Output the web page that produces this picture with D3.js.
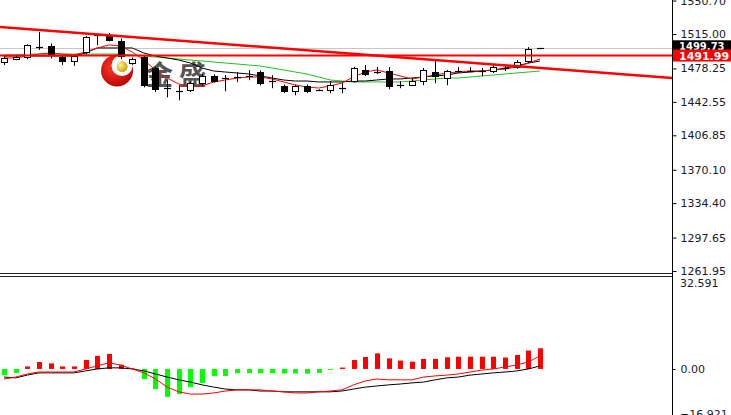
<!DOCTYPE html>
<html><head><meta charset="utf-8">
<script src="https://cdn.jsdelivr.net/npm/d3@7"></script>
<style>body{margin:0;background:#fff;overflow:hidden}svg{display:block}</style>
</head><body>
<svg id="c" width="731" height="415"></svg>
<script>
// ---- data ----
const bars = d3.range(47);
const open  = [1485.2,1488.4,1490.5,1502,1502.4,1490.5,1486.2,1495.9,1513,1514.2,1507.7,1484,1490.5,1478.7,1457.5,1454,1455,1462.5,1470,1467.8,1469,1470,1474.3,1464.5,1459.3,1453.9,1459.3,1455,1455,1457,1464.7,1476.5,1474.4,1475.4,1460.3,1460.3,1464.6,1474.4,1468,1475.4,1475.4,1475.4,1475.4,1478.7,1479.7,1486.2,1499.6];
const high  = [1491.6,1493,1504,1517,1505,1492,1493,1513,1515.3,1516,1510,1490,1492,1480,1465.7,1460.3,1464,1472,1472,1471.1,1474.3,1476.5,1476,1471.1,1461,1461,1461,1456,1464.6,1462.5,1480,1481.9,1479.7,1479.7,1464.6,1467.9,1478.7,1487.3,1476.5,1479.7,1479.7,1478.7,1481.9,1481.9,1487,1501,1500];
const low   = [1481.9,1487,1488,1498,1489,1482,1481,1493,1503,1507,1488,1482,1458,1453,1447.4,1444.2,1453,1460,1463,1453.9,1463.6,1465.7,1460,1457.1,1452,1449.6,1452,1454,1451.7,1451.7,1463,1470,1472.2,1456,1457.1,1459.3,1460.3,1462.5,1460.3,1473.3,1474.3,1470,1473.3,1475.4,1478,1484,1499.4];
const close = [1489.5,1490.6,1503.4,1501,1493.8,1486.2,1491.6,1512.1,1513.5,1508.8,1491.6,1488.4,1460.3,1456,1457,1453.8,1462.5,1470,1464.7,1468,1469,1470.2,1462.5,1464.7,1453.9,1459.3,1453.9,1455.2,1460.3,1457.3,1478.7,1472.2,1474.3,1459.3,1460.4,1464.6,1476.5,1470,1475.4,1475.5,1475.5,1475.6,1479.7,1478.8,1485.1,1499.2,1499.7];
const maFast = [1489.4,1489.4,1491.5,1493.6,1494.7,1493.6,1492.6,1495.8,1500.1,1503.3,1502.2,1495.8,1487.2,1476.6,1468.0,1461.6,1458.4,1459.5,1463.8,1465.9,1468.0,1469.1,1469.1,1467.0,1463.8,1460.5,1458.4,1457.3,1459.5,1462.7,1469.1,1474.4,1476.6,1473.4,1470.2,1467.0,1469.1,1471.2,1473.4,1474.4,1475.5,1475.5,1476.6,1477.6,1479.8,1484.0,1488.3];
const maMid = [1491.5,1491.5,1491.5,1491.5,1491.5,1491.5,1491.5,1494.7,1500.1,1500.1,1500.1,1500.1,1494.7,1491.5,1489.4,1487.2,1484.0,1478.7,1475.5,1474.4,1473.4,1472.3,1470.2,1468.0,1465.9,1464.8,1464.8,1463.8,1463.8,1463.8,1464.8,1464.8,1465.9,1467.0,1467.0,1468.0,1469.1,1470.2,1471.2,1473.4,1474.4,1475.5,1476.6,1478.7,1480.8,1484.0,1486.2];
const maSlow = [1492.6,1492.6,1493.6,1493.6,1493.6,1493.6,1493.6,1493.6,1493.6,1493.6,1493.6,1492.6,1491.5,1490.4,1489.4,1488.3,1487.2,1486.2,1485.1,1484.0,1483.0,1481.9,1480.8,1478.7,1476.6,1474.4,1472.3,1469.1,1465.9,1464.8,1463.8,1463.8,1463.8,1463.8,1463.8,1464.8,1465.9,1467.0,1468.0,1468.0,1469.1,1470.2,1471.2,1472.3,1473.4,1474.4,1475.5];
const trendIdx = [0, 46];
const trendPrice = [1522.1, 1478.7];
const hLinePrice = 1491.99;
const bidPrice = 1499.73;
const macdHist = [-2.3,-1.4,0.9,2.5,2,0.9,0.9,3.2,4.7,5.4,1.5,0.2,-3.6,-7.2,-10,-9,-6.5,-5,-2.5,-2.5,-1.5,-1.5,-1.5,-1.5,-1.6,-1.6,-1.7,-1.4,-0.3,0.5,3.2,4.3,5.6,3.8,3,2.6,3.6,3.6,4.2,4.4,4.4,4.4,4.4,4.1,5,6.6,7.4];
const macdBlack = [-2.9,-3.2,-2.2,-1.4,-1.4,-1.4,-1.4,-0.7,0,0.4,0.4,0,-0.7,-1.8,-2.9,-3.9,-4.7,-5.7,-6.5,-7.2,-7.5,-7.5,-7.9,-7.9,-8.2,-8.2,-8.2,-8.2,-8.2,-7.9,-7.2,-6.5,-6.1,-5.7,-5.4,-5.0,-4.7,-3.9,-3.2,-2.9,-2.2,-1.8,-1.4,-1.1,-0.7,0,1.1];
const macdRed = [-3.6,-2.9,-1.8,-1.1,-1.1,-1.1,-1.1,0,1.1,2.2,1.4,0,-1.4,-3.6,-6.5,-8.2,-9,-9,-8.6,-7.9,-7.5,-7.5,-7.5,-7.9,-8.2,-8.6,-8.6,-8.2,-7.9,-7.5,-5.7,-4.3,-3.6,-3.9,-3.9,-3.9,-2.9,-2.5,-2.2,-1.8,-1.1,-0.4,0,0.7,1.4,2.5,4.7];
const priceTicks = [1550.70,1515.00,1478.25,1442.55,1406.85,1370.10,1334.40,1297.65,1261.95];
const macdTop = 32.591, macdBottom = -16.921;
const logoText = ["金","盛"];

// ---- layout ----
const W = 731, H = 415, axisX = 672;
const svg = d3.select("#c");
const x = d3.scaleLinear().domain([0,46]).range([4,540]);
const y = d3.scaleLinear().domain([1260.9,1551.3]).range([272,0]);
const ym = d3.scaleLinear().domain([-16.5,32.6]).range([415,278]);
const font = "'DejaVu Sans', Verdana, sans-serif";

const defs = svg.append("defs");
defs.append("clipPath").attr("id","cm").append("rect").attr("x",0).attr("y",0).attr("width",axisX).attr("height",272);
defs.append("clipPath").attr("id","cd").append("rect").attr("x",0).attr("y",278).attr("width",axisX).attr("height",137);
const rg = defs.append("radialGradient").attr("id","rg").attr("cx","40%").attr("cy","40%").attr("r","70%");
rg.append("stop").attr("offset","0%").attr("stop-color","#ff3a2a");
rg.append("stop").attr("offset","100%").attr("stop-color","#b00000");
const gg = defs.append("radialGradient").attr("id","gg").attr("cx","35%").attr("cy","35%").attr("r","70%");
gg.append("stop").attr("offset","0%").attr("stop-color","#fff2a0");
gg.append("stop").attr("offset","100%").attr("stop-color","#c8a000");

const main = svg.append("g").attr("clip-path","url(#cm)");

// logo watermark
const lg = main.append("g");
const lcx = x(9.7), lcy = y(1476);
lg.append("circle").attr("cx",lcx).attr("cy",lcy).attr("r",16).attr("fill","url(#rg)");
lg.append("circle").attr("cx",lcx+5).attr("cy",lcy-5).attr("r",10.5).attr("fill","#fff");
lg.append("circle").attr("cx",lcx+5).attr("cy",lcy-4).attr("r",5.5).attr("fill","url(#gg)");
lg.selectAll("text.lt").data(logoText).enter().append("text")
  .attr("x",(d,i)=>lcx+29+i*33).attr("y",lcy+14)
  .attr("font-family","'Noto Sans CJK SC', sans-serif").attr("font-size",27).attr("font-weight","bold")
  .attr("fill","#2a2a2a").attr("opacity",0.8).text(d=>d);

// bid line
main.append("line").attr("x1",0).attr("x2",axisX).attr("y1",Math.round(y(bidPrice))+0.5).attr("y2",Math.round(y(bidPrice))+0.5)
  .attr("stroke","#c8c8c8").attr("stroke-width",1);

// moving averages
const ln = arr => d3.line().x((d,i)=>x(i)).y(d=>y(d))(arr);
main.append("path").attr("d",ln(maSlow)).attr("fill","none").attr("stroke","#22c022").attr("stroke-width",1);
main.append("path").attr("d",ln(maMid)).attr("fill","none").attr("stroke","#000").attr("stroke-width",1);
main.append("path").attr("d",ln(maFast)).attr("fill","none").attr("stroke","#ff0000").attr("stroke-width",1);

// candles
const cg = main.append("g");
bars.forEach(i=>{
  const cx = Math.round(x(i))+0.5;
  cg.append("line").attr("x1",cx).attr("x2",cx).attr("y1",y(high[i])).attr("y2",y(low[i])).attr("stroke","#000").attr("stroke-width",1);
  const top = y(Math.max(open[i],close[i])), bot = y(Math.min(open[i],close[i]));
  const hgt = bot-top;
  if (hgt < 2) {
    cg.append("line").attr("x1",cx-3.5).attr("x2",cx+3.5).attr("y1",Math.round(y(close[i]))+0.5).attr("y2",Math.round(y(close[i]))+0.5).attr("stroke","#000").attr("stroke-width",1.2);
  } else {
    cg.append("rect").attr("x",cx-3).attr("width",6).attr("y",Math.round(top)+0.5).attr("height",Math.round(hgt))
      .attr("fill", close[i]>=open[i] ? "#fff" : "#000").attr("stroke","#000").attr("stroke-width",1);
  }
});

// horizontal and trend lines
main.append("line").attr("x1",0).attr("x2",axisX).attr("y1",y(hLinePrice)).attr("y2",y(hLinePrice)).attr("stroke","#ff0000").attr("stroke-width",2);
const tScale = d3.scaleLinear().domain(trendIdx).range(trendPrice);
const i0 = x.invert(0), i1 = x.invert(axisX);
main.append("line").attr("x1",0).attr("x2",axisX).attr("y1",y(tScale(i0))).attr("y2",y(tScale(i1)))
  .attr("stroke","#ff0000").attr("stroke-width",2.5);

// separator
[273.5,276.5].forEach(v=>svg.append("line").attr("x1",0).attr("x2",axisX).attr("y1",v).attr("y2",v).attr("stroke","#222").attr("stroke-width",1));

// MACD panel
const sub = svg.append("g").attr("clip-path","url(#cd)");
sub.selectAll("rect.h").data(bars).enter().append("rect")
  .attr("x",i=>Math.round(x(i))-2).attr("width",5)
  .attr("y",i=>Math.min(ym(0),ym(macdHist[i]))).attr("height",i=>Math.abs(ym(macdHist[i])-ym(0)))
  .attr("fill",i=>macdHist[i]>=0?"#ff0000":"#00ff00");
const lm = arr => d3.line().x((d,i)=>x(i)).y(d=>ym(d))(arr);
sub.append("path").attr("d",lm(macdBlack)).attr("fill","none").attr("stroke","#000").attr("stroke-width",1);
sub.append("path").attr("d",lm(macdRed)).attr("fill","none").attr("stroke","#ff0000").attr("stroke-width",1);

// axes
svg.append("line").attr("x1",axisX+0.5).attr("x2",axisX+0.5).attr("y1",0).attr("y2",H).attr("stroke","#000");
const ax = d3.axisRight(y).tickValues(priceTicks).tickSize(4).tickSizeOuter(0).tickPadding(4).tickFormat(d3.format(".2f"));
const ag = svg.append("g").attr("transform",`translate(${axisX+0.5},0)`).call(ax);
ag.select(".domain").remove();
ag.selectAll("text").attr("font-family",font).attr("font-size",11).attr("fill","#1a1a2a");
ag.selectAll("line").attr("stroke","#000");

const axm = d3.axisRight(ym).tickValues([0]).tickSize(3).tickPadding(5).tickFormat(d3.format(".2f"));
const amg = svg.append("g").attr("transform",`translate(${axisX+0.5},0)`).call(axm);
amg.select(".domain").remove();
amg.selectAll("text").attr("font-family",font).attr("font-size",11).attr("fill","#1a1a2a");
svg.append("text").attr("x",axisX+8).attr("y",ym(32.6)+1).attr("dominant-baseline","hanging")
  .attr("font-family",font).attr("font-size",11).attr("fill","#1a1a2a").text(d3.format(".3f")(macdTop));
svg.append("text").attr("x",axisX+8).attr("y",ym(-16.5)-5).attr("dominant-baseline","hanging")
  .attr("font-family",font).attr("font-size",11).attr("fill","#1a1a2a").text(d3.format(".3f")(macdBottom));

// price labels (bid label sits behind the line label, as in the reference)
function plabel(p, bg, dyShift, fs){
  const cy = y(p) + dyShift;
  svg.append("rect").attr("x",axisX+1).attr("y",cy-6).attr("width",W-axisX-1).attr("height",12).attr("fill",bg);
  svg.append("text").attr("x",axisX+7).attr("y",cy).attr("dy","0.36em").attr("font-family",font).attr("font-size",fs)
    .attr("font-weight","bold").attr("fill","#fff").text(d3.format(".2f")(p));
}
plabel(bidPrice,"#000",-2,10);
plabel(hLinePrice,"#ff0000",0,11);
</script>
</body></html>
